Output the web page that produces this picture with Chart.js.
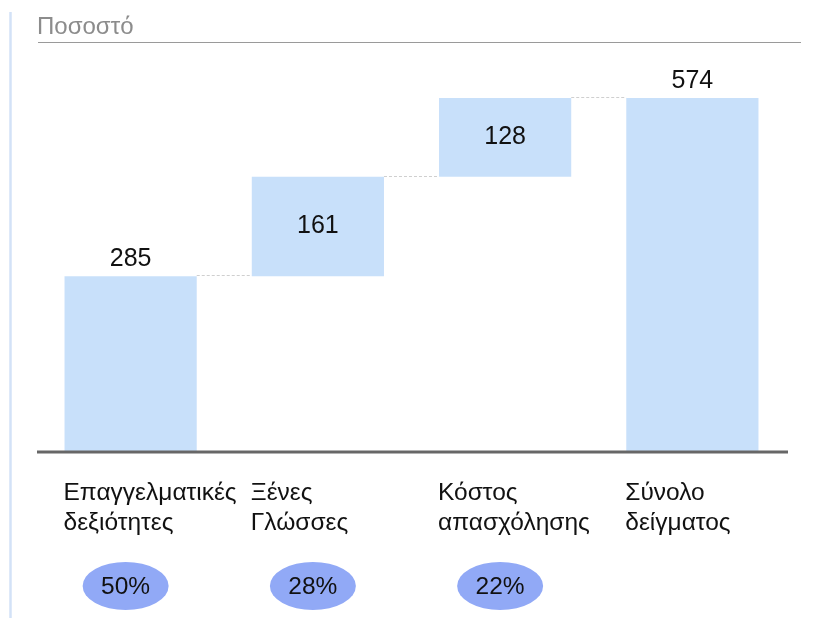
<!DOCTYPE html>
<html>
<head>
<meta charset="utf-8">
<script src="https://cdn.jsdelivr.net/npm/chart.js@4.4.1/dist/chart.umd.min.js"></script>
<style>
html,body{margin:0;padding:0;background:#fff;}
#wrap{width:838px;height:618px;position:relative;}
</style>
</head>
<body>
<div id="wrap"><canvas id="c" width="838" height="618"></canvas></div>
<script>
const titleText = "Ποσοστό";
const categories = [["Επαγγελματικές","δεξιότητες"],["Ξένες","Γλώσσες"],["Κόστος","απασχόλησης"],["Σύνολο","δείγματος"]];
const values = [285, 161, 128, 574];
const isTotal = [false, false, false, true];
const shares = ["50%", "28%", "22%", null];

// build floating ranges
const ranges = [];
let run = 0;
values.forEach((v, i) => {
  if (isTotal[i]) { ranges.push([0, v]); }
  else { ranges.push([run, run + v]); run += v; }
});

const FONT = "'Liberation Sans', Arial, sans-serif";

const decor = {
  id: 'decor',
  afterDatasetsDraw(chart) {
    const ctx = chart.ctx;
    const ys = chart.scales.y;
    const meta = chart.getDatasetMeta(0);
    ctx.save();
    // left vertical line
    ctx.strokeStyle = '#d3e2f7';
    ctx.lineWidth = 2.5;
    ctx.beginPath(); ctx.moveTo(10.5, 12); ctx.lineTo(10.5, 618); ctx.stroke();
    // title
    ctx.fillStyle = '#8c8c8c';
    ctx.font = "24px " + FONT;
    ctx.textAlign = 'left'; ctx.textBaseline = 'middle';
    ctx.fillText(titleText, 37, 27);
    ctx.strokeStyle = '#9a9a9a'; ctx.lineWidth = 1.2;
    ctx.beginPath(); ctx.moveTo(38, 42.5); ctx.lineTo(801, 42.5); ctx.stroke();
    // connectors
    ctx.strokeStyle = '#cfcfcf'; ctx.lineWidth = 1; ctx.setLineDash([3, 2]);
    for (let i = 0; i < meta.data.length - 1; i++) {
      const b = meta.data[i], n = meta.data[i + 1];
      const level = ranges[i][1];
      const y = Math.round(ys.getPixelForValue(level)) - 0.5;
      ctx.beginPath();
      ctx.moveTo(b.x + b.width / 2, y);
      ctx.lineTo(n.x - n.width / 2, y);
      ctx.stroke();
    }
    ctx.setLineDash([]);
    // baseline
    ctx.strokeStyle = '#676767'; ctx.lineWidth = 3;
    ctx.beginPath(); ctx.moveTo(37, ys.getPixelForValue(0)); ctx.lineTo(788, ys.getPixelForValue(0)); ctx.stroke();
    // value labels
    ctx.fillStyle = '#111'; ctx.font = "25px " + FONT;
    ctx.textAlign = 'center'; ctx.textBaseline = 'middle';
    meta.data.forEach((b, i) => {
      const top = ys.getPixelForValue(ranges[i][1]);
      const bot = ys.getPixelForValue(ranges[i][0]);
      if (ranges[i][0] === 0) ctx.fillText(String(values[i]), b.x, top - 17);
      else ctx.fillText(String(values[i]), b.x, (top + bot) / 2);
    });
    // category labels
    ctx.font = "24.5px " + FONT;
    ctx.textAlign = 'left';
    meta.data.forEach((b, i) => {
      const x0 = b.x - b.width / 2 - 1;
      categories[i].forEach((line, k) => ctx.fillText(line, x0, 493 + k * 30));
    });
    // share ellipses
    meta.data.forEach((b, i) => {
      if (!shares[i]) return;
      const cx = b.x - 5, cy = 586;
      ctx.fillStyle = '#91a9f6';
      ctx.beginPath(); ctx.ellipse(cx, cy, 43, 24, 0, 0, Math.PI * 2); ctx.fill();
      ctx.fillStyle = '#111'; ctx.textAlign = 'center';
      ctx.fillText(shares[i], cx, cy + 1);
    });
    ctx.restore();
  }
};

new Chart(document.getElementById('c'), {
  type: 'bar',
  data: {
    labels: categories.map(c => c.join(' ')),
    datasets: [{
      data: ranges,
      backgroundColor: '#c8e0fa',
      borderWidth: 0,
      categoryPercentage: 1,
      barPercentage: 0.706
    }]
  },
  options: {
    responsive: false,
    animation: false,
    devicePixelRatio: 1,
    layout: { padding: { left: 37, right: 52, top: 51, bottom: 166 } },
    plugins: { legend: { display: false }, tooltip: { enabled: false }, title: { display: false } },
    scales: {
      x: { display: false },
      y: { display: false, min: 0, max: 650 }
    }
  },
  plugins: [decor]
});
</script>
</body>
</html>
